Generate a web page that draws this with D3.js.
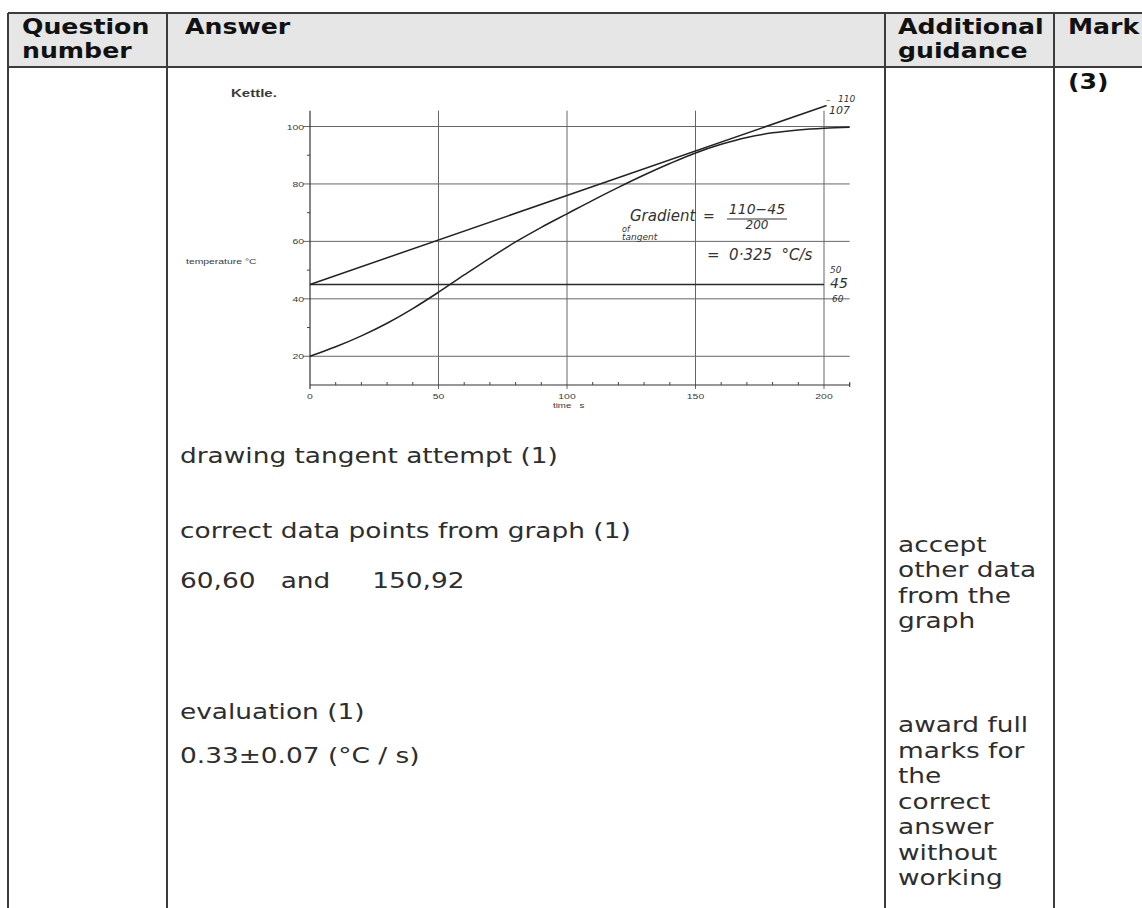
<!DOCTYPE html>
<html>
<head>
<meta charset="utf-8">
<script src="https://cdn.jsdelivr.net/npm/d3@7"></script>
<style>
  body { margin: 0; background: #fff; }
  svg { display: block; }
  text { white-space: pre; }
</style>
</head>
<body>
<div id="page"></div>
<script>
// chart values
const curveTime = [0, 10, 20, 30, 40, 50, 60, 70, 80, 90, 100, 110, 120, 130, 140, 150, 160, 170, 180, 190, 200, 210]
const curveTemp = [20, 23.3, 27.1, 31.5, 36.6, 42.3, 48.3, 54.2, 59.8, 64.9, 69.6, 74.3, 78.8, 83.1, 87.1, 90.8, 93.8, 96.2, 97.8, 98.8, 99.4, 99.7]
const tangentTime = [0, 201]
const tangentTemp = [45, 107.3]
const lineTime = [0, 200]
const lineTemp = [45, 45]

const yTicks = [20, 40, 60, 80, 100]
const yMinor = [30, 50, 70, 90]
const xTicks = [0, 50, 100, 150, 200]
const xMinor = [10, 20, 30, 40, 60, 70, 80, 90, 110, 120, 130, 140, 160, 170, 180, 190, 210]

// table text
const headers = [["Question", "number"], ["Answer"], ["Additional", "guidance"], ["Mark"]]
const answerLines = ["drawing tangent attempt (1)", "correct data points from graph (1)", "60,60   and     150,92", "evaluation (1)", "0.33±0.07 (°C / s)"]
const guidance1 = ["accept", "other data", "from the", "graph"]
const guidance2 = ["award full", "marks for", "the", "correct", "answer", "without", "working"]
const markText = "(3)"

const W = 1142, H = 908
const sx = 1.2   // the scan is stretched sideways

const svg = d3.select("#page").append("svg")
  .attr("width", W)
  .attr("height", H)

function txt(g, s, x, y, size, opts) {
  opts = opts || {}
  return g.append("text")
    .attr("transform", `translate(${x},${y}) scale(${opts.sx || sx},1)`)
    .attr("font-family", opts.family || "DejaVu Sans, Verdana, sans-serif")
    .attr("font-size", size + "px")
    .attr("font-weight", opts.bold ? "bold" : "normal")
    .attr("font-style", opts.italic ? "italic" : "normal")
    .attr("text-anchor", opts.anchor || "start")
    .attr("fill", opts.fill || "#2e2e2e")
    .text(s)
}

// ---- table ----
const colX = [8, 167, 885, 1054]
const tableTop = 13, headBottom = 67

svg.append("rect")
  .attr("x", colX[0]).attr("y", tableTop)
  .attr("width", W).attr("height", headBottom - tableTop)
  .attr("fill", "#e6e6e6")

const border = svg.append("g").attr("stroke", "#3c3c3c").attr("stroke-width", 2)
border.append("line").attr("x1", colX[0]).attr("x2", W).attr("y1", tableTop).attr("y2", tableTop)
border.append("line").attr("x1", colX[0]).attr("x2", W).attr("y1", headBottom).attr("y2", headBottom)
colX.forEach(function (x) {
  border.append("line").attr("x1", x).attr("x2", x).attr("y1", tableTop).attr("y2", H)
})

const headX = [22, 185, 898, 1068]
headers.forEach(function (lines, i) {
  lines.forEach(function (s, j) {
    txt(svg, s, headX[i], 34 + j * 24, 21, {bold: true, fill: "#111"})
  })
})

const answerY = [463, 538, 588, 719, 763]
answerLines.forEach(function (s, i) {
  txt(svg, s, 180, answerY[i], 22)
})
guidance1.forEach(function (s, i) {
  txt(svg, s, 898, 552 + i * 25.3, 22)
})
guidance2.forEach(function (s, i) {
  txt(svg, s, 898, 732 + i * 25.5, 22)
})
txt(svg, markText, 1068, 89, 21, {bold: true, fill: "#111"})

// ---- graph ----
const x = d3.scaleLinear().domain([0, 200]).range([310, 824])
const y = d3.scaleLinear().domain([10, 100]).range([385, 126.5])
const g = svg.append("g")
const gridColor = "#666"
const small = {family: "Liberation Sans, Arial, sans-serif", sx: 1.3, fill: "#3a3a3a"}

// horizontal gridlines
g.selectAll(".hgrid").data(yTicks).join("line")
  .attr("x1", x(0) - 7).attr("x2", x(210))
  .attr("y1", d => y(d)).attr("y2", d => y(d))
  .attr("stroke", gridColor).attr("stroke-width", 1)
// vertical gridlines
g.selectAll(".vgrid").data(xTicks.slice(1)).join("line")
  .attr("x1", d => x(d)).attr("x2", d => x(d))
  .attr("y1", y(10) + 4).attr("y2", y(105.5))
  .attr("stroke", gridColor).attr("stroke-width", 1)
// axes
g.append("line").attr("x1", x(0)).attr("x2", x(0)).attr("y1", y(10) + 4).attr("y2", y(105.5))
  .attr("stroke", "#333").attr("stroke-width", 1.2)
g.append("line").attr("x1", x(0)).attr("x2", x(210)).attr("y1", y(10)).attr("y2", y(10))
  .attr("stroke", "#333").attr("stroke-width", 1.2)
g.append("line").attr("x1", x(210)).attr("x2", x(210)).attr("y1", y(10) - 2).attr("y2", y(10) + 2)
  .attr("stroke", "#333")
// minor ticks
g.selectAll(".ym").data(yMinor).join("line")
  .attr("x1", x(0) - 3).attr("x2", x(0))
  .attr("y1", d => y(d)).attr("y2", d => y(d))
  .attr("stroke", "#444")
g.selectAll(".xm").data(xMinor).join("line")
  .attr("x1", d => x(d)).attr("x2", d => x(d))
  .attr("y1", y(10) - 3).attr("y2", y(10))
  .attr("stroke", "#444")

// tick labels
yTicks.forEach(function (d) {
  txt(g, String(d), x(0) - 6, y(d) + 3, 8, Object.assign({anchor: "end"}, small))
})
xTicks.forEach(function (d) {
  txt(g, String(d), x(d), y(10) + 14, 8, Object.assign({anchor: "middle"}, small))
})
txt(g, "Kettle.", 231, 97, 10, Object.assign({bold: true}, small, {sx: 1.5}))
txt(g, "temperature °C", 186, 264, 8, small)
txt(g, "time   s", 553, 408, 7.5, small)

// the 45 °C line, tangent and heating curve
const line = d3.line().x(d => x(d[0])).y(d => y(d[1]))
g.append("path")
  .attr("d", line(d3.zip(lineTime, lineTemp)))
  .attr("fill", "none").attr("stroke", "#2a2a2a").attr("stroke-width", 1.4)
g.append("path")
  .attr("d", line(d3.zip(tangentTime, tangentTemp)))
  .attr("fill", "none").attr("stroke", "#222").attr("stroke-width", 1.5)
g.append("path")
  .attr("d", line.curve(d3.curveMonotoneX)(d3.zip(curveTime, curveTemp)))
  .attr("fill", "none").attr("stroke", "#222").attr("stroke-width", 1.5)

// handwritten notes
const hand = {family: "DejaVu Sans, sans-serif", sx: 1, italic: true, fill: "#333"}
txt(g, "Gradient", 630, 221, 15, hand)
txt(g, "=", 703, 221, 14, hand)
txt(g, "110−45", 757, 214, 14, Object.assign({anchor: "middle"}, hand))
g.append("line").attr("x1", 727).attr("x2", 787).attr("y1", 219).attr("y2", 219)
  .attr("stroke", "#333").attr("stroke-width", 1)
txt(g, "200", 757, 229, 12, Object.assign({anchor: "middle"}, hand))
txt(g, "of", 622, 232, 8, hand)
txt(g, "tangent", 622, 240, 9, hand)
txt(g, "=  0·325  °C/s", 707, 260, 15, hand)
txt(g, "–", 826, 103, 9, hand)
txt(g, "110", 838, 102, 9, hand)
txt(g, "107", 829, 114, 11, hand)
txt(g, "50", 830, 273, 9, hand)
txt(g, "45", 830, 288, 14, hand)
txt(g, "60", 832, y(40) + 3, 9, hand)
</script>
</body>
</html>
